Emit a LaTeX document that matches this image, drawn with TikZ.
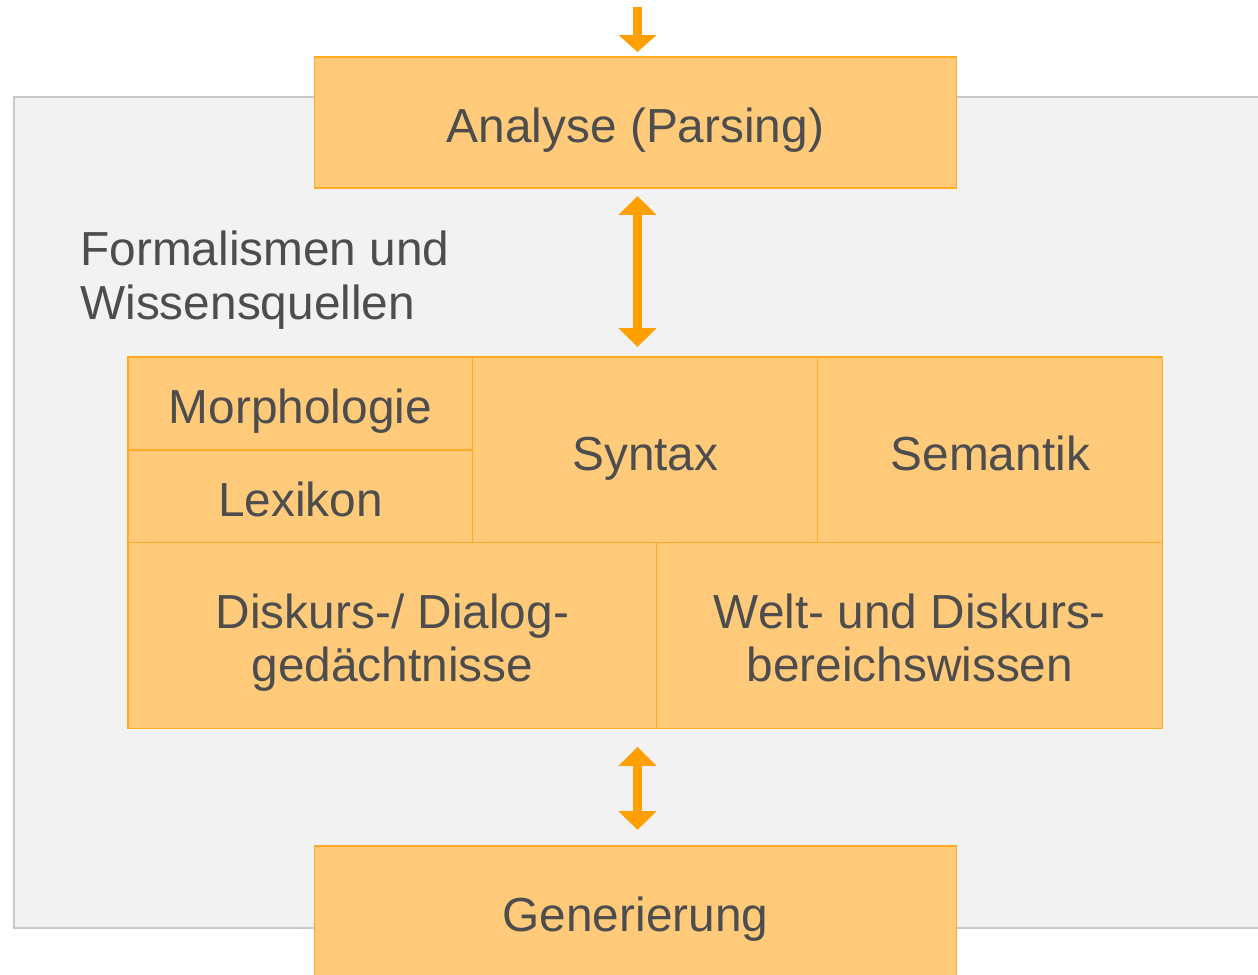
\documentclass[tikz,border=0pt]{standalone}
\usepackage{fontspec}
\setmainfont{Liberation Sans}
\usepackage{tikz}
\usetikzlibrary{arrows.meta, positioning}
\definecolor{boxfill}{HTML}{FFCB7B}
\definecolor{boxline}{HTML}{FFAA22}
\definecolor{arrowcol}{HTML}{FFA000}
\definecolor{textcol}{HTML}{4D4D4D}
\definecolor{panelfill}{HTML}{F2F2F2}
\definecolor{panelline}{HTML}{C8C8C8}
\tikzset{
  every node/.style={
    text=textcol,
    font=\fontsize{27.2}{30.6}\selectfont
  },
}
\tikzstyle{block} = [rectangle, draw=boxline, fill=boxfill, line width=0.6pt, inner sep=0pt, outer sep=0pt, align=center,
  execute at begin node={\rule{0pt}{1.02cm}}, execute at end node={\rule[-0.2cm]{0pt}{0.2cm}}]
\tikzstyle{twoline} = [block, minimum height=3.72cm, execute at begin node={\rule{0pt}{2.04cm}}]
\tikzstyle{cell} = [block, minimum width=6.9cm, minimum height=3.72cm]
\tikzstyle{halfcell} = [block, minimum width=6.9cm, minimum height=1.86cm]
\tikzstyle{arrow} = [draw=arrowcol, line width=0.18cm, -{Triangle[length=0.34cm, width=0.74cm]}]
\tikzstyle{twoway} = [draw=arrowcol, line width=0.18cm, {Triangle[length=0.38cm, width=0.74cm]}-{Triangle[length=0.38cm, width=0.74cm]}]

\begin{document}
\begin{tikzpicture}[x=0.02cm, y=-0.02cm]
        \useasboundingbox (0,0) rectangle (1258,974);
        % panel
        \draw [draw=panelline, fill=panelfill, line width=0.8pt] (14,97) rectangle (1270,928);
        \node [anchor=north west, align=left, inner sep=0pt] (label) at (80,231) {Formalismen und\\Wissensquellen};

        % blocks
        \node [block, minimum width=12.86cm, minimum height=2.62cm] (parse) at (635.5,122.5) {Analyse (Parsing)};
        \node [halfcell, anchor=north west] (morph) at (128,357) {Morphologie};
        \node [halfcell, below=0pt of morph] (lex) {Lexikon};
        \node [cell, anchor=north west] (syntax) at (morph.north east) {Syntax};
        \node [cell, anchor=north west] (sem) at (syntax.north east) {Semantik};
        \node [twoline, anchor=north west, minimum width=10.58cm] (disk) at (lex.south west) {Diskurs-/ Dialog-\\gedächtnisse};
        \node [twoline, anchor=north west, minimum width=10.12cm] (welt) at (disk.north east) {Welt- und Diskurs-\\bereichswissen};
        \node [block, minimum width=12.86cm, minimum height=2.62cm, anchor=north] (gen) at (635.5,846) {Generierung};

        % arrows
        \coordinate (in) at (637.5,7);
        \draw [arrow, shorten >=0.1cm] (in) -- (in |- parse.north);
        \draw [twoway, shorten <=0.16cm, shorten >=0.2cm] (parse.south -| in) -- (syntax.north -| in);
        \draw [twoway, shorten <=0.36cm, shorten >=0.32cm] (disk.south -| in) -- (gen.north -| in);
    \end{tikzpicture}
\end{document}
